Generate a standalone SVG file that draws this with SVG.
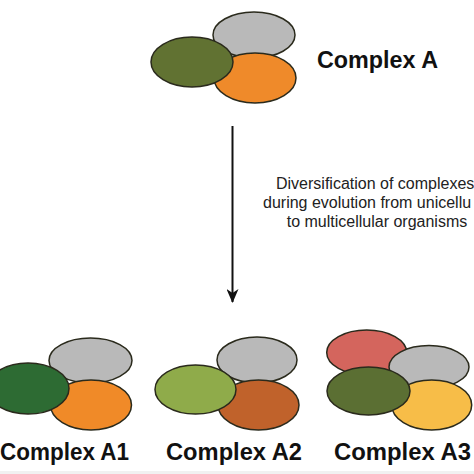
<svg xmlns="http://www.w3.org/2000/svg" width="474" height="474" viewBox="0 0 474 474">
<defs>
<style>
.e{stroke:#2a2a1c;stroke-width:1.5}
.lbl{font-family:"Liberation Sans",Arial,sans-serif;font-weight:bold;font-size:23px;fill:#111}
.desc{font-family:"Liberation Sans",Arial,sans-serif;font-size:16px;fill:#222}
</style>
<marker id="ah" viewBox="0 0 14 12" refX="13" refY="6" markerWidth="14" markerHeight="12" markerUnits="userSpaceOnUse" orient="auto">
<path d="M0,0 L4,6 L0,12 L14,6 Z" fill="#111"/>
</marker>
</defs>
<rect x="0" y="0" width="474" height="474" fill="#ffffff"/>
<rect x="0" y="471" width="474" height="3" fill="#f1f1f1"/>

<g id="complexA">
<ellipse class="e" cx="254" cy="35" rx="41" ry="23" fill="#b9b9b9"/>
<ellipse class="e" cx="255" cy="78" rx="41" ry="25" fill="#ef8a2a"/>
<ellipse class="e" cx="192" cy="62" rx="41" ry="25" fill="#617232"/>
<text class="lbl" x="317" y="68" textLength="121" lengthAdjust="spacingAndGlyphs">Complex A</text>
</g>

<g id="connectors">
<line x1="232.5" y1="126" x2="232.5" y2="302" stroke="#111" stroke-width="2" marker-end="url(#ah)"/>
</g>

<g id="description">
<text class="desc" x="276" y="189">Diversification of complexes</text>
<text class="desc" x="263" y="208">during evolution from unicellu</text>
<text class="desc" x="377" y="227" text-anchor="middle">to multicellular organisms</text>
</g>

<g id="complexA1">
<ellipse class="e" cx="90.5" cy="360.5" rx="41.5" ry="22.5" fill="#b9b9b9"/>
<ellipse class="e" cx="91" cy="405" rx="40.5" ry="25" fill="#f08a28"/>
<ellipse class="e" cx="28" cy="388.5" rx="41" ry="25.5" fill="#2d6b33"/>
<text class="lbl" x="0" y="460" textLength="129" lengthAdjust="spacingAndGlyphs">Complex A1</text>
</g>

<g id="complexA2">
<ellipse class="e" cx="257" cy="360" rx="40" ry="23" fill="#b9b9b9"/>
<ellipse class="e" cx="258.5" cy="405" rx="40.5" ry="25" fill="#c0622b"/>
<ellipse class="e" cx="195.5" cy="389.5" rx="40.5" ry="24.5" fill="#8fab4a"/>
<text class="lbl" x="166" y="460" textLength="136" lengthAdjust="spacingAndGlyphs">Complex A2</text>
</g>

<g id="complexA3">
<ellipse class="e" cx="366.7" cy="352.5" rx="40" ry="22.5" fill="#d4655d"/>
<ellipse class="e" cx="429" cy="367" rx="40" ry="21.5" fill="#b9b9b9"/>
<ellipse class="e" cx="431.7" cy="405" rx="40" ry="25" fill="#f7bd48"/>
<ellipse class="e" cx="368.5" cy="391" rx="41.5" ry="24" fill="#5b6f33"/>
<text class="lbl" x="334" y="460" textLength="137" lengthAdjust="spacingAndGlyphs">Complex A3</text>
</g>
</svg>
